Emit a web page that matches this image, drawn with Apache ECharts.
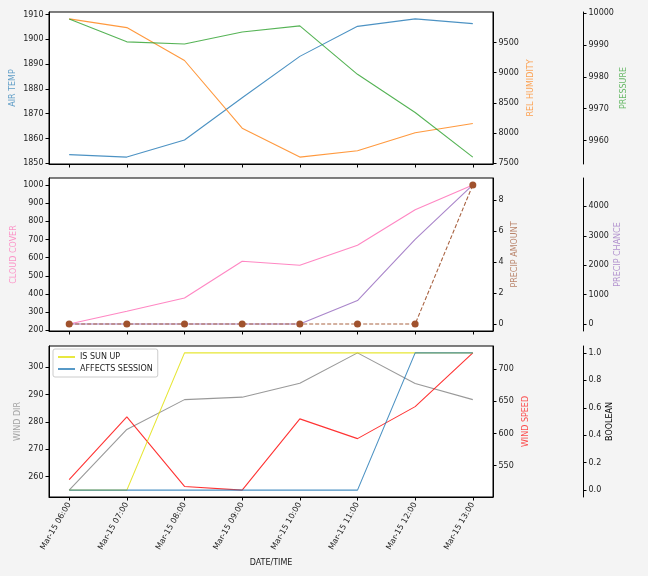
<!DOCTYPE html>
<html>
<head>
<meta charset="utf-8">
<script src="https://cdn.jsdelivr.net/npm/echarts@6/dist/echarts.min.js"></script>
<style>
html,body{margin:0;padding:0;background:#f4f4f4;}
#c{width:648px;height:576px;}
</style>
</head>
<body>
<div id="c"></div>
<script>
const times = ['Mar-15 06:00','Mar-15 07:00','Mar-15 08:00','Mar-15 09:00','Mar-15 10:00','Mar-15 11:00','Mar-15 12:00','Mar-15 13:00'];
const airTemp = [1853.5,1852.5,1859.4,1876.4,1893.1,1905.2,1908.2,1906.3];
const relHumidity = [9892,9748,9202,8078,7599,7705,8002,8156];
const pressure = [9998.2,9991,9990.3,9994.1,9996.0,9980.8,9968.8,9954.8];
const cloudCover = [235,305,378,580,558,668,864,1000];
const precipAmount = [0,0,0,0,0,0,0,9];
const precipChance = [0,0,0,0,0,798,2877,4730];
const windDir = [255,277.2,288.1,289,294.1,305.2,294,288.1];
const windSpeed = [528.4,625.7,517.7,512,622.6,591.9,641.6,725];
const isSunUp = [0,0,1,1,1,1,1,1];
const affectsSession = [0,0,0,0,0,0,1,1];

const ticksAirTemp = [1850,1860,1870,1880,1890,1900,1910];
const ticksHumidity = [7500,8000,8500,9000,9500];
const ticksPressure = [9960,9970,9980,9990,10000];
const ticksCloud = [200,300,400,500,600,700,800,900,1000];
const ticksPrecipAmt = [0,2,4,6,8];
const ticksPrecipChance = [0,1000,2000,3000,4000];
const ticksWindDir = [260,270,280,290,300];
const ticksWindSpeed = [550,600,650,700];
const ticksBool = [0,0.2,0.4,0.6,0.8,1.0];

function pts(arr){ return arr.map((v,i)=>[i,v]); }
function pad(arr){ const lo=Math.min(...arr), hi=Math.max(...arr), m=(hi-lo)*0.05; return [lo-m, hi+m]; }

const FONT = 'DejaVu Sans';
const LBL = '#222';

function yAx(grid, pos, offset, name, color, ticks, range, gap, fmt){
  return {
    type:'value', gridIndex:grid, position:pos, offset:offset,
    min:range[0], max:range[1],
    name:name, nameLocation:'middle', nameGap:gap, nameRotate:90, nameMoveOverlap:false,
    nameTextStyle:{color:color, fontSize:8, fontFamily:FONT},
    axisLine:{show:true, onZero:false, lineStyle:{color:'#000', width:1}},
    axisTick:{show:true, customValues:ticks, length:3.5, lineStyle:{color:'#000'}},
    axisLabel:{show:true, customValues:ticks, fontSize:8, color:LBL, margin:5.5, fontFamily:FONT,
      formatter: fmt || (v=>String(v))},
    splitLine:{show:false}
  };
}

function xAx(grid, showLabels){
  const idx=[0,1,2,3,4,5,6,7];
  return {
    type:'value', gridIndex:grid, min:-0.35, max:7.35,
    axisLine:{show:true, onZero:false, lineStyle:{color:'#000'}},
    axisTick:{show:true, customValues:idx, length:3.5, lineStyle:{color:'#000'}},
    axisLabel:{show:showLabels, customValues:idx, rotate:60, fontSize:8, color:LBL, margin:6, fontFamily:FONT,
      formatter:v=>times[Math.round(v)]},
    splitLine:{show:false},
    name: showLabels ? 'DATE/TIME' : '',
    nameLocation:'middle', nameGap:62, nameMoveOverlap:false,
    nameTextStyle:{color:LBL, fontSize:8, fontFamily:FONT}
  };
}

const C = {
  air:'#1f77b4', hum:'#ff7f0e', pres:'#2ca02c',
  cloud:'#ff69b4', pamt:'#a0522d', pch:'#9467bd',
  wdir:'#808080', wspd:'#ff0000', sun:'#e0e000', aff:'#1f77b4'
};

function line(name, x, y, data, color, extra){
  return Object.assign({
    type:'line', name:name, xAxisIndex:x, yAxisIndex:y, data:pts(data),
    showSymbol:false, symbol:'none', silent:true, animation:false,
    lineStyle:{color:color, width:1.1, opacity:0.8},
    itemStyle:{color:color}
  }, extra||{});
}

const gridBase = {left:49, width:444, show:true, backgroundColor:'#fff', borderColor:'#000', borderWidth:1,
  containLabel:false, outerBoundsMode:'none'};

const chart = echarts.init(document.getElementById('c'), null, {renderer:'canvas'});
chart.setOption({
  backgroundColor:'#f4f4f4',
  animation:false,
  textStyle:{fontFamily:FONT},
  grid:[
    Object.assign({}, gridBase, {top:12, height:152}),
    Object.assign({}, gridBase, {top:178, height:153}),
    Object.assign({}, gridBase, {top:346, height:151})
  ],
  xAxis:[xAx(0,false), xAx(1,false), xAx(2,true)],
  yAxis:[
    yAx(0,'left',0,'AIR TEMP','rgba(31,119,180,0.7)',ticksAirTemp,pad(airTemp),32),
    yAx(0,'right',0,'REL HUMIDITY','rgba(255,127,14,0.7)',ticksHumidity,pad(relHumidity),34),
    yAx(0,'right',90,'PRESSURE','rgba(44,160,44,0.7)',ticksPressure,pad(pressure),37),
    yAx(1,'left',0,'CLOUD COVER','rgba(255,105,180,0.7)',ticksCloud,pad(cloudCover),31),
    yAx(1,'right',0,'PRECIP AMOUNT','rgba(160,82,45,0.7)',ticksPrecipAmt,pad(precipAmount),18),
    yAx(1,'right',90,'PRECIP CHANCE','rgba(148,103,189,0.7)',ticksPrecipChance,pad(precipChance),31),
    yAx(2,'left',0,'WIND DIR','rgba(128,128,128,0.7)',ticksWindDir,pad(windDir),27),
    yAx(2,'right',0,'WIND SPEED','rgba(255,0,0,0.7)',ticksWindSpeed,pad(windSpeed),29),
    yAx(2,'right',90,'BOOLEAN','#000',ticksBool,pad(ticksBool.concat(isSunUp)),23,v=>v.toFixed(1))
  ],
  legend:{
    data:['IS SUN UP','AFFECTS SESSION'],
    left:53, top:349, orient:'vertical', itemGap:4,
    itemWidth:17, itemHeight:1.5, icon:'rect',
    padding:[4,5,4,5], backgroundColor:'rgba(255,255,255,0.8)',
    borderColor:'#ccc', borderWidth:1, borderRadius:2,
    textStyle:{fontSize:8, color:LBL, fontFamily:FONT},
    selectedMode:false
  },
  series:[
    line('AIR TEMP',0,0,airTemp,C.air),
    line('REL HUMIDITY',0,1,relHumidity,C.hum),
    line('PRESSURE',0,2,pressure,C.pres),
    line('CLOUD COVER',1,3,cloudCover,C.cloud),
    line('PRECIP CHANCE',1,5,precipChance,C.pch),
    line('PRECIP AMOUNT',1,4,precipAmount,C.pamt,{
      showSymbol:true, symbol:'circle', symbolSize:7,
      lineStyle:{color:C.pamt, width:1.1, type:[4,2], opacity:0.9},
      itemStyle:{color:C.pamt, opacity:1}, z:5
    }),
    line('WIND DIR',2,6,windDir,C.wdir),
    line('WIND SPEED',2,7,windSpeed,C.wspd),
    line('IS SUN UP',2,8,isSunUp,C.sun),
    line('AFFECTS SESSION',2,8,affectsSession,C.aff)
  ]
});
</script>
</body>
</html>
